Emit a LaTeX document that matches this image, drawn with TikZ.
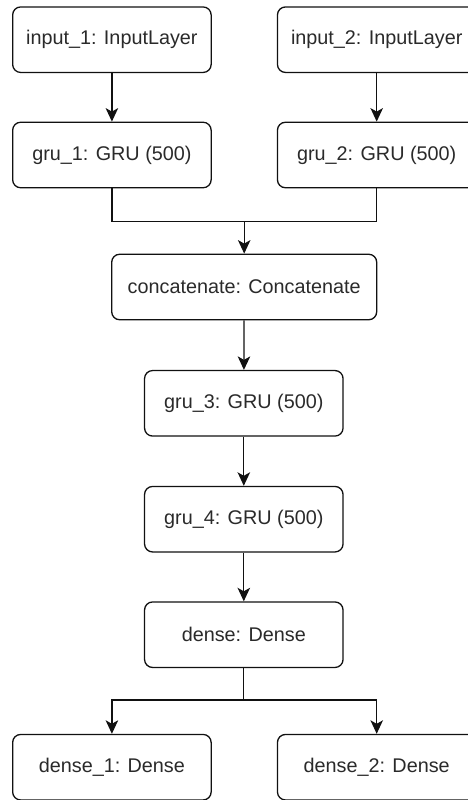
\documentclass[tikz,border=0pt]{standalone}
\usepackage{fontspec}
\setmainfont{Liberation Sans}
\usetikzlibrary{arrows.meta}
\definecolor{txt}{HTML}{2A2A2A}
\definecolor{ln}{HTML}{111111}
\tikzset{
  layer/.style={draw=ln, line width=1.3pt, rounded corners=8pt, fill=white,
    inner sep=0pt, text=txt, font=\fontsize{19.8}{24}\selectfont,
    minimum height=65.5pt},
  narrowbox/.style={layer, minimum width=198.5pt},
  widebox/.style={layer, minimum width=265pt},
  conn/.style={draw=ln, line width=1.3pt},
  arr/.style={conn, -{Stealth[length=13.5pt,width=12.5pt,inset=3.5pt]}}
}
\begin{document}
\begin{tikzpicture}[x=1pt,y=-1pt]
\useasboundingbox (0,0) rectangle (468,800);
\node[narrowbox] (in1) at (111.9,39.7) {input\_1: InputLayer};
\node[narrowbox] (in2) at (376.7,39.7) {input\_2: InputLayer};
\node[narrowbox] (gru1) at (111.9,155) {gru\_1: GRU (500)};
\node[narrowbox] (gru2) at (376.7,155) {gru\_2: GRU (500)};
\node[widebox] (cat) at (244.2,287) {concatenate: Concatenate};
\node[narrowbox] (gru3) at (243.8,403.3) {gru\_3: GRU (500)};
\node[narrowbox] (gru4) at (243.8,519.2) {gru\_4: GRU (500)};
\node[narrowbox] (dense) at (243.8,634.7) {dense: Dense};
\node[narrowbox] (d1) at (111.9,767.2) {dense\_1: Dense};
\node[narrowbox] (d2) at (376.7,767.2) {dense\_2: Dense};
\coordinate (m) at (244.2,221.7);
\coordinate (s) at (243.8,700);
\draw[arr] (in1) -- (gru1);
\draw[arr] (in2) -- (gru2);
\draw[arr] (gru1.south) |- (m) -- (cat.north);
\draw[conn] (gru2.south) |- (m);
\draw[arr] (cat) -- (gru3);
\draw[arr] (gru3) -- (gru4);
\draw[arr] (gru4) -- (dense);
\draw[conn] (dense.south) -- (s);
\draw[arr] (s) -| (d1.north);
\draw[arr] (s) -| (d2.north);
\end{tikzpicture}
\end{document}
